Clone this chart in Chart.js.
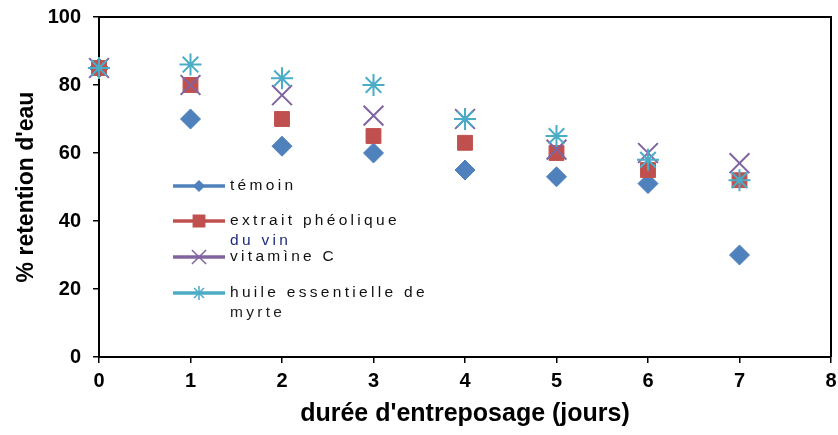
<!DOCTYPE html>
<html>
<head>
<meta charset="utf-8">
<script src="https://cdn.jsdelivr.net/npm/chart.js@4/dist/chart.umd.min.js"></script>
<style>
  html, body { margin: 0; padding: 0; background: #fff; }
  #wrap { width: 838px; height: 435px; }
</style>
</head>
<body>
<div id="wrap"><canvas id="chart" width="838" height="435"></canvas></div>
<script>
// days of storage
let days = [0, 1, 2, 3, 4, 5, 6, 7]

// % water retention per treatment
let temoin = [85, 70, 62, 60, 55, 53, 51, 30]
let extraitVin = [85, 80, 70, 65, 63, 60, 55, 52]
let vitamineC = [85, 80, 77, 71, 70, 61, 60, 57]
let huileMyrte = [85, 86, 82, 80, 70, 65, 58, 52]

let xTicks = [0, 1, 2, 3, 4, 5, 6, 7, 8]
let yTicks = [0, 20, 40, 60, 80, 100]

let seriesNames = ['témoin', 'extrait phéolique du vin', 'vitamìne C', 'huile essentielle de myrte']
let legendLines = [['témoin'], ['extrait phéolique', 'du vin'], ['vitamìne C'], ['huile essentielle de', 'myrte']]

let pts = vals => vals.map((v, i) => ({x: days[i], y: v}))

// legend drawn inside the plot like the original
let insideLegend = {
    id: 'insideLegend',
    afterDatasetsDraw(chart) {
        let ctx = chart.ctx
        let a = chart.chartArea
        let rows = [169, 204, 240, 276]
        let secondColors = ['#000', '#1F2A7A', '#000', '#222']
        ctx.save()
        chart.data.datasets.forEach((ds, i) => {
            let y = a.top + rows[i]
            let x0 = a.left + 74, x1 = a.left + 126
            ctx.strokeStyle = ds.legendLine
            ctx.lineWidth = 3.5
            ctx.beginPath()
            ctx.moveTo(x0, y)
            ctx.lineTo(x1, y)
            ctx.stroke()
            ctx.fillStyle = ds.backgroundColor
            ctx.strokeStyle = ds.borderColor
            ctx.lineWidth = 1.5
            Chart.helpers.drawPoint(ctx, {pointStyle: ds.pointStyle, radius: ds.legendRadius, borderWidth: 1.5, rotation: 0}, (x0 + x1) / 2, y)
            ctx.font = '15.5px "Liberation Sans", Arial, sans-serif'
            if ('letterSpacing' in ctx) ctx.letterSpacing = '3.3px'
            ctx.textBaseline = 'middle'
            ctx.textAlign = 'left'
            legendLines[i].forEach((t, k) => {
                ctx.fillStyle = k === 0 ? '#111' : secondColors[i]
                ctx.fillText(t, a.left + 131, y + k * 20)
            })
        })
        ctx.restore()
    }
}

// top and right frame lines
let frame = {
    id: 'frame',
    beforeDatasetsDraw(chart) {
        let ctx = chart.ctx
        let a = chart.chartArea
        ctx.save()
        ctx.strokeStyle = '#000'
        ctx.lineWidth = 2
        ctx.beginPath()
        ctx.moveTo(a.left, a.top)
        ctx.lineTo(a.right, a.top)
        ctx.lineTo(a.right, a.bottom)
        ctx.stroke()
        ctx.restore()
    }
}

let tickFont = {family: '"Liberation Sans", Arial, sans-serif', size: 20, weight: 'bold'}

new Chart(document.getElementById('chart'), {
    type: 'scatter',
    data: {
        datasets: [{
            label: seriesNames[0],
            data: pts(temoin),
            pointStyle: 'rectRot',
            pointRadius: 10,
            backgroundColor: '#4F81BD',
            borderColor: '#4F81BD',
            borderWidth: 1,
            legendLine: '#4F81BD',
            legendRadius: 5,
            order: 4
        }, {
            label: seriesNames[1],
            data: pts(extraitVin),
            pointStyle: 'rect',
            pointRadius: 10.5,
            backgroundColor: '#C0504D',
            borderColor: '#C0504D',
            borderWidth: 1,
            legendLine: '#C0504D',
            legendRadius: 8,
            order: 3
        }, {
            label: seriesNames[2],
            data: pts(vitamineC),
            pointStyle: 'crossRot',
            pointRadius: 14,
            backgroundColor: '#8064A2',
            borderColor: '#8064A2',
            borderWidth: 2,
            legendLine: '#8064A2',
            legendRadius: 10,
            order: 2
        }, {
            label: seriesNames[3],
            data: pts(huileMyrte),
            pointStyle: 'star',
            pointRadius: 11,
            backgroundColor: '#4BACC6',
            borderColor: '#4BACC6',
            borderWidth: 2,
            legendLine: '#4BACC6',
            legendRadius: 7,
            order: 1
        }]
    },
    options: {
        responsive: false,
        animation: false,
        clip: false,
        layout: {autoPadding: false, padding: {top: 17, right: 7, left: 0, bottom: 0}},
        plugins: {
            legend: {display: false},
            tooltip: {enabled: false}
        },
        scales: {
            x: {
                type: 'linear',
                min: 0,
                max: 8,
                afterBuildTicks: s => { s.ticks = xTicks.map(v => ({value: v})) },
                afterFit: s => { s.height = 78; s.paddingLeft = 0; s.paddingRight = 0 },
                grid: {drawOnChartArea: false, color: '#000', tickColor: '#000', tickLength: 6, lineWidth: 1.5},
                border: {color: '#000', width: 2},
                ticks: {color: '#000', font: tickFont, padding: 6, maxRotation: 0},
                title: {
                    display: true,
                    text: "durée d'entreposage (jours)",
                    color: '#000',
                    font: {family: '"Liberation Sans", Arial, sans-serif', size: 25, weight: 'bold'},
                    padding: {top: 0, bottom: 6}
                }
            },
            y: {
                type: 'linear',
                min: 0,
                max: 100,
                afterBuildTicks: s => { s.ticks = yTicks.map(v => ({value: v})) },
                afterFit: s => { s.width = 99; s.paddingTop = 0; s.paddingBottom = 0 },
                grid: {drawOnChartArea: false, color: '#000', tickColor: '#000', tickLength: 6, lineWidth: 1.5},
                border: {color: '#000', width: 2},
                ticks: {color: '#000', font: tickFont, padding: 12},
                title: {
                    display: true,
                    text: "% retention d'eau",
                    color: '#000',
                    font: {family: '"Liberation Sans", Arial, sans-serif', size: 23, weight: 'bold'},
                    padding: {top: 13, bottom: 0}
                }
            }
        }
    },
    plugins: [frame, insideLegend]
})
</script>
</body>
</html>
